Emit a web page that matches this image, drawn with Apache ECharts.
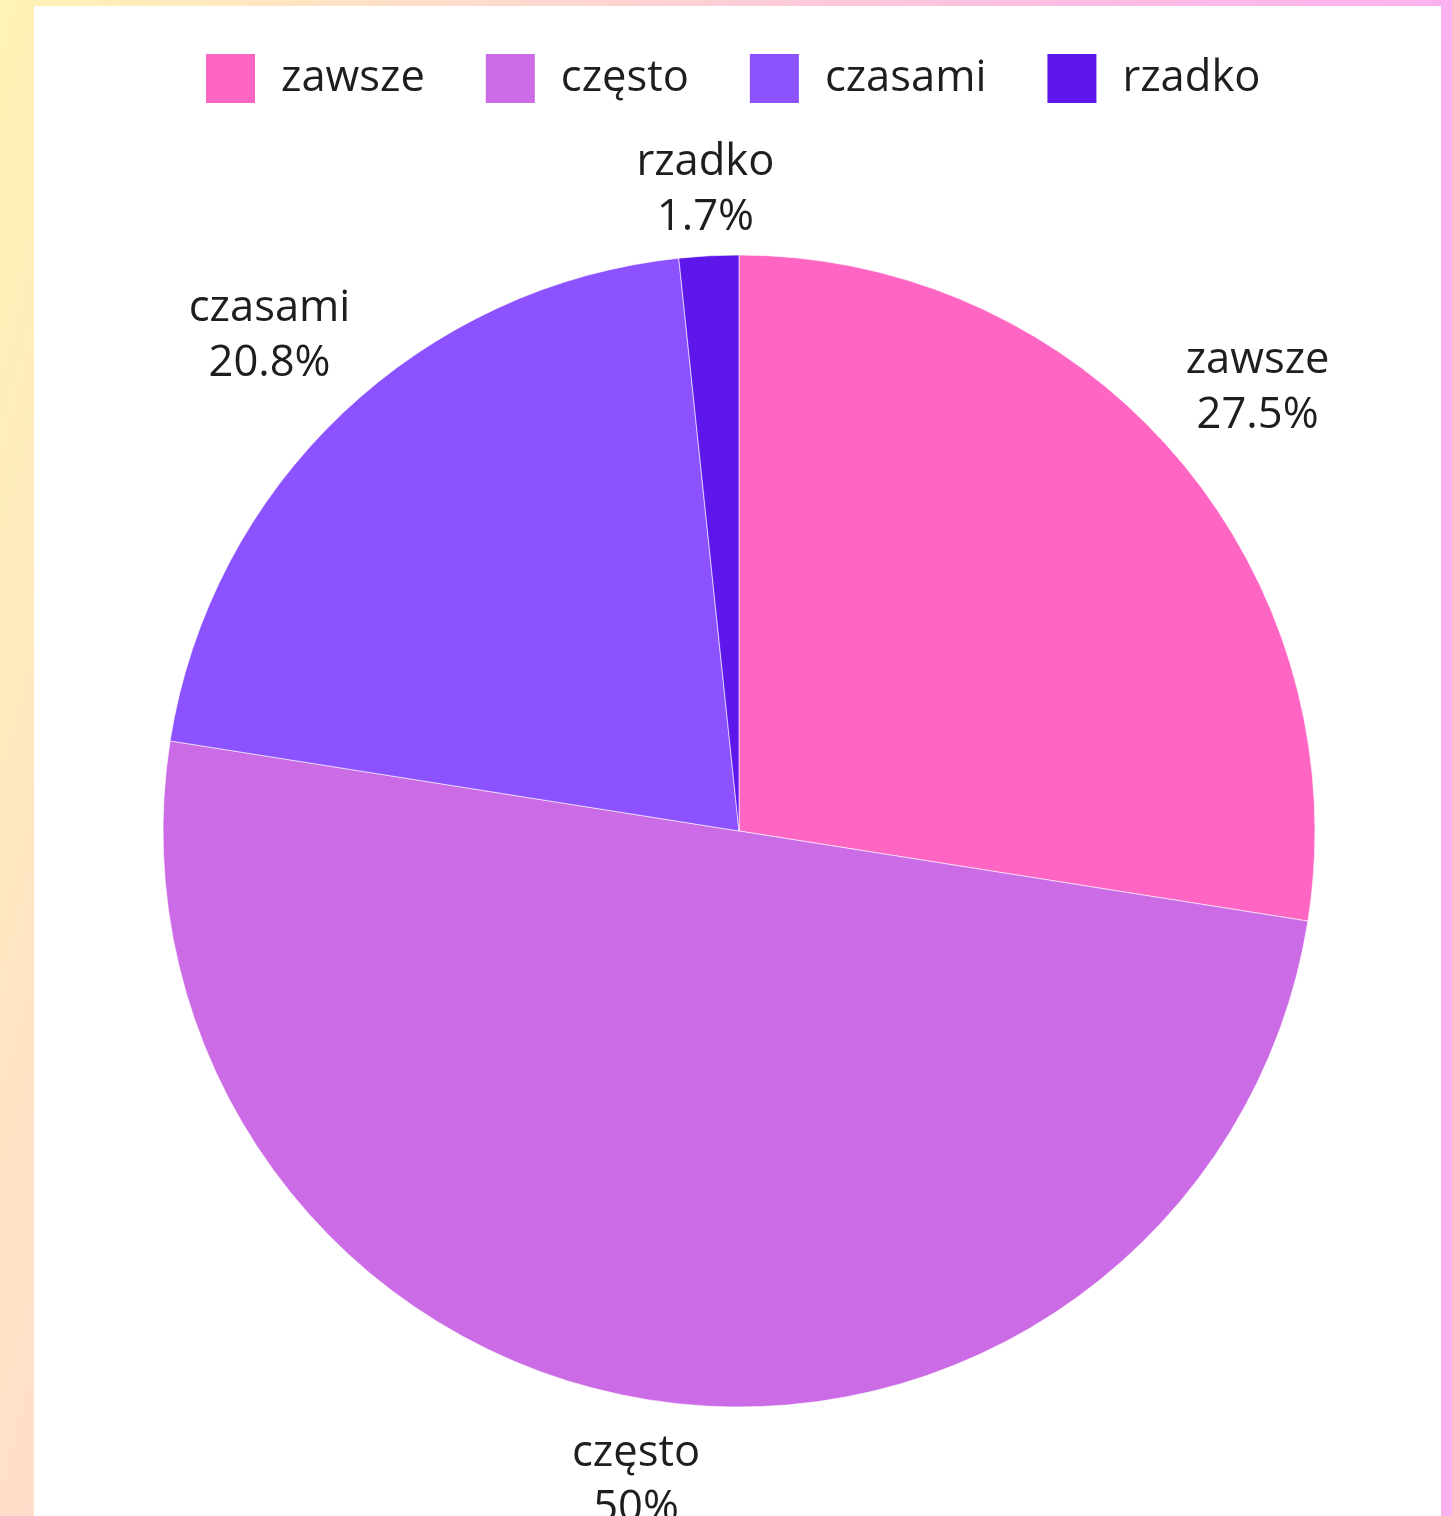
<!DOCTYPE html>
<html>
<head>
<meta charset="utf-8">
<title>Pie</title>
<script src="https://cdn.jsdelivr.net/npm/echarts@6/dist/echarts.min.js"></script>
<style>
  html, body {
    margin: 0;
    padding: 0;
    width: 1452px;
    height: 1516px;
    overflow: hidden;
    background: linear-gradient(105deg, #fff3b4 0%, #ffdccc 25%, #fcc0e2 55%, #fbb0f0 80%, #fbb0f0 100%);
  }
  #myChart {
    position: absolute;
    left: 34px;
    top: 6px;
    width: 1407px;
    height: 1600px;
    background-color: #fff;
  }
</style>
</head>
<body>
<div id="myChart"></div>
<script>
// dane
var categories = ["zawsze", "często", "czasami", "rzadko"];
var counts = [33, 60, 25, 2];
var colors = ["#ff66c4", "#cb6ce6", "#8c52ff", "#5e17eb"];
// odległość etykiet od koła
var labelGaps = [106, 82, 106, 66];

var FONT = "'Open Sans', 'Noto Sans', sans-serif";

var mycharts = echarts.init(document.getElementById("myChart"));

var pieData = categories.map(function (name, i) {
  return {
    name: name,
    value: counts[i],
    itemStyle: { color: colors[i] },
    labelLine: { length: labelGaps[i] }
  };
});

var option = {
  animation: false,
  legend: {
    top: 46,
    left: 170,
    padding: 0,
    itemWidth: 51,
    itemHeight: 51,
    itemGap: 59,
    icon: "rect",
    data: categories,
    textStyle: {
      fontFamily: FONT,
      fontSize: 43.5,
      color: "#1e1e1e",
      padding: [0, 0, 0, 20]
    }
  },
  series: [
    {
      type: "pie",
      center: [705, 825],
      radius: 576,
      startAngle: 90,
      clockwise: true,
      avoidLabelOverlap: false,
      percentPrecision: 1,
      itemStyle: {
        borderColor: "#fff",
        borderWidth: 0.6
      },
      label: {
        show: true,
        position: "outside",
        formatter: "{b}\n{d}%",
        fontFamily: FONT,
        fontSize: 43.5,
        lineHeight: 55,
        color: "#1e1e1e",
        distanceToLabelLine: 0
      },
      labelLine: {
        show: false,
        length2: 0
      },
      labelLayout: function () {
        return { align: "center" };
      },
      emphasis: { disabled: true },
      data: pieData
    }
  ]
};

mycharts.setOption(option);
</script>
</body>
</html>
